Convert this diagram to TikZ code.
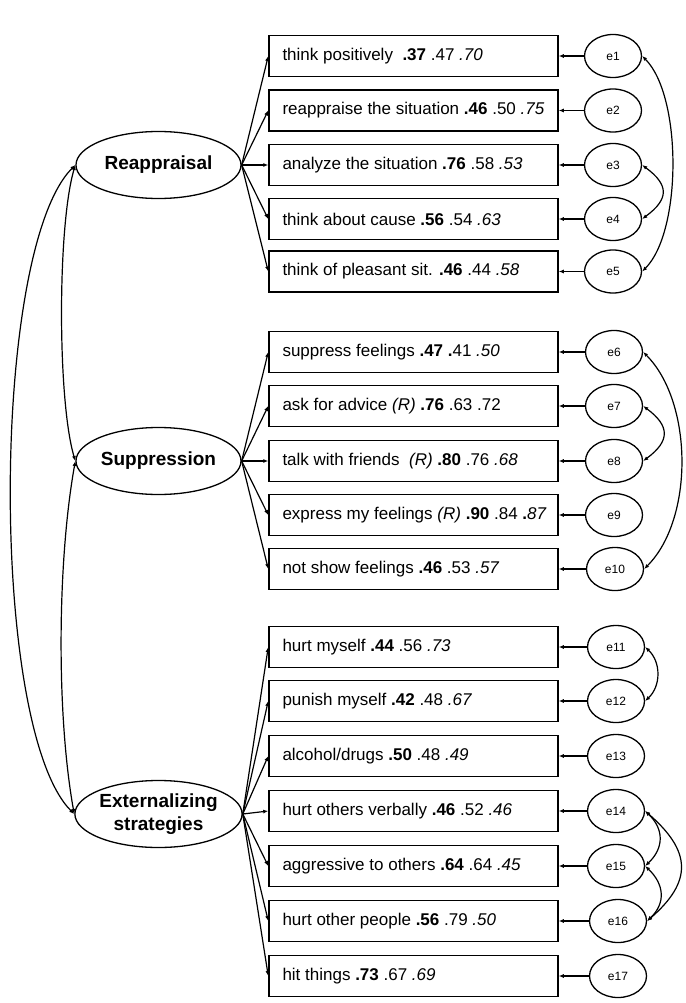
\documentclass[tikz,border=0pt]{standalone}
\usepackage{fontspec}
\setmainfont{Liberation Sans}
\usetikzlibrary{arrows.meta,shapes.geometric}

\tikzset{
    itembox/.style={draw, line width=1.5pt, minimum width=289pt, minimum height=41pt,
        inner xsep=13.5pt, inner ysep=0pt, font=\fontsize{17}{20}\selectfont},
    latent/.style={draw, ellipse, line width=1.3pt, minimum width=165pt, minimum height=67pt,
        inner sep=0pt, align=center, font=\fontsize{19}{23}\selectfont\bfseries},
    errvar/.style={draw, ellipse, line width=1.3pt, minimum width=57pt, minimum height=43pt,
        inner sep=0pt, font=\fontsize{12}{14}\selectfont},
    load/.style={line width=1.2pt, -{Latex[length=5pt,width=4pt]}},
    cov/.style={line width=1.2pt, {Latex[length=5pt,width=4pt]}-{Latex[length=5pt,width=4pt]}}
}
\newcommand{\itemtxt}[1]{\makebox[262pt][l]{#1}}

\begin{document}
\begin{tikzpicture}[x=1pt, y=-1pt]
    \useasboundingbox (0,0) rectangle (685,1003);

    % latent factors
    \node[latent] (reap) at (158.5,165) {Reappraisal};
    \node[latent] (supp) at (158.5,461) {Suppression};
    \node[latent] (ext) at (158.5,814) {Externalizing\\strategies};

    % reappraisal items
    \node[itembox] (b1) at (413.5,56) {\itemtxt{think positively\ \ \textbf{.37} .47 \textit{.70}}};
    \node[itembox] (b2) at (413.5,110.5) {\itemtxt{reappraise the situation \textbf{.46} .50 \textit{.75}}};
    \node[itembox] (b3) at (413.5,165) {\itemtxt{analyze the situation \textbf{.76} .58 \textit{.53}}};
    \node[itembox] (b4) at (413.5,219) {\itemtxt{think about cause \textbf{.56} .54 \textit{.63}}};
    \node[itembox] (b5) at (413.5,271.5) {\itemtxt{think of pleasant sit. \textbf{.46} .44 \textit{.58}}};

    % suppression items
    \node[itembox] (b6) at (413.5,352) {\itemtxt{suppress feelings \textbf{.47 .}41 \textit{.50}}};
    \node[itembox] (b7) at (413.5,406) {\itemtxt{ask for advice \textit{(R)} \textbf{.76} .63 .72}};
    \node[itembox] (b8) at (413.5,461) {\itemtxt{talk with friends\ \ \textit{(R)} \textbf{.80} .76 \textit{.68}}};
    \node[itembox] (b9) at (413.5,515) {\itemtxt{express my feelings \textit{(R)} \textbf{.90} .84 \textbf{.}\textit{87}}};
    \node[itembox] (b10) at (413.5,569) {\itemtxt{not show feelings \textbf{.46} .53 \textit{.57}}};

    % externalizing items
    \node[itembox] (b11) at (413.5,647) {\itemtxt{hurt myself \textbf{.44} .56 \textit{.73}}};
    \node[itembox] (b12) at (413.5,701) {\itemtxt{punish myself \textbf{.42} .48 \textit{.67}}};
    \node[itembox] (b13) at (413.5,756) {\itemtxt{alcohol/drugs \textbf{.50} .48 \textit{.49}}};
    \node[itembox] (b14) at (413.5,811) {\itemtxt{hurt others verbally \textbf{.46} .52 \textit{.46}}};
    \node[itembox] (b15) at (413.5,866) {\itemtxt{aggressive to others \textbf{.64} .64 \textit{.45}}};
    \node[itembox] (b16) at (413.5,921) {\itemtxt{hurt other people \textbf{.56} .79 \textit{.50}}};
    \node[itembox] (b17) at (413.5,976) {\itemtxt{hit things \textbf{.73} .67 \textit{.69}}};

    % error terms
    \node[errvar] (e1) at (613,56) {e1};
    \node[errvar] (e2) at (613,110.5) {e2};
    \node[errvar] (e3) at (613,165) {e3};
    \node[errvar] (e4) at (613,219) {e4};
    \node[errvar] (e5) at (613,271.5) {e5};
    \node[errvar] (e6) at (614,352) {e6};
    \node[errvar] (e7) at (614,406) {e7};
    \node[errvar] (e8) at (614,461) {e8};
    \node[errvar] (e9) at (614,515) {e9};
    \node[errvar] (e10) at (615,569) {e10};
    \node[errvar] (e11) at (616,647) {e11};
    \node[errvar] (e12) at (616,701) {e12};
    \node[errvar] (e13) at (616,756) {e13};
    \node[errvar] (e14) at (616,811) {e14};
    \node[errvar] (e15) at (616,866) {e15};
    \node[errvar] (e16) at (618,921) {e16};
    \node[errvar] (e17) at (618,976) {e17};

    % loadings
    \draw[load] (reap.east) -- (b1.west);
    \draw[load] (reap.east) -- (b2.west);
    \draw[load] (reap.east) -- (b3.west);
    \draw[load] (reap.east) -- (b4.west);
    \draw[load] (reap.east) -- (b5.west);
    \draw[load] (supp.east) -- (b6.west);
    \draw[load] (supp.east) -- (b7.west);
    \draw[load] (supp.east) -- (b8.west);
    \draw[load] (supp.east) -- (b9.west);
    \draw[load] (supp.east) -- (b10.west);
    \draw[load] (ext.east) -- (b11.west);
    \draw[load] (ext.east) -- (b12.west);
    \draw[load] (ext.east) -- (b13.west);
    \draw[load] (ext.east) -- (b14.west);
    \draw[load] (ext.east) -- (b15.west);
    \draw[load] (ext.east) -- (b16.west);
    \draw[load] (ext.east) -- (b17.west);

    % error paths
    \draw[load] (e1.west) -- (b1.east);
    \draw[load] (e2.west) -- (b2.east);
    \draw[load] (e3.west) -- (b3.east);
    \draw[load] (e4.west) -- (b4.east);
    \draw[load] (e5.west) -- (b5.east);
    \draw[load] (e6.west) -- (b6.east);
    \draw[load] (e7.west) -- (b7.east);
    \draw[load] (e8.west) -- (b8.east);
    \draw[load] (e9.west) -- (b9.east);
    \draw[load] (e10.west) -- (b10.east);
    \draw[load] (e11.west) -- (b11.east);
    \draw[load] (e12.west) -- (b12.east);
    \draw[load] (e13.west) -- (b13.east);
    \draw[load] (e14.west) -- (b14.east);
    \draw[load] (e15.west) -- (b15.east);
    \draw[load] (e16.west) -- (b16.east);
    \draw[load] (e17.west) -- (b17.east);

    % factor covariances
    \draw[cov] (reap.west) .. controls +(-18,60) and +(-18,-60) .. (supp.west);
    \draw[cov] (supp.west) .. controls +(-18,100) and +(-18,-100) .. (ext.west);
    \draw[cov] (reap.west) .. controls +(-85,85) and +(-85,-85) .. (ext.west);

    % error covariances
    \draw[cov] (e1.east) .. controls +(40,40) and +(40,-40) .. (e5.east);
    \draw[cov] (e3.east) .. controls +(27,20) and +(27,-20) .. (e4.east);
    \draw[cov] (e6.east) .. controls +(50,50) and +(50,-50) .. (e10.east);
    \draw[cov] (e7.east) .. controls +(27,20) and +(27,-20) .. (e8.east);
    \draw[cov] (e11.east) .. controls +(16,15) and +(16,-15) .. (e12.east);
    \draw[cov] (e14.east) .. controls +(19,18) and +(19,-18) .. (e15.east);
    \draw[cov] (e15.east) .. controls +(19,18) and +(19,-18) .. (e16.east);
    \draw[cov] (e14.east) .. controls +(46,40) and +(46,-40) .. (e16.east);
\end{tikzpicture}
\end{document}
